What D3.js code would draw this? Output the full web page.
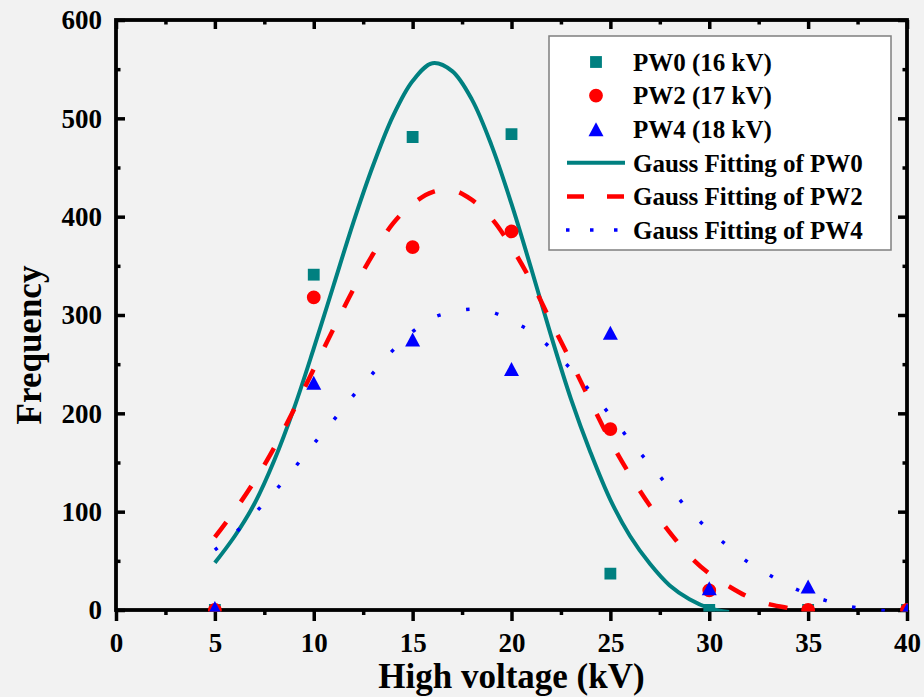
<!DOCTYPE html>
<html>
<head>
<meta charset="utf-8">
<script src="https://cdn.jsdelivr.net/npm/d3@7"></script>
<style>
html,body{margin:0;padding:0;background:#f2f2f2;}
svg{display:block;}
text{font-family:"Liberation Serif","Times New Roman",serif;font-weight:bold;fill:#000;}
</style>
</head>
<body>
<svg id="chart" width="924" height="697"></svg>
<script>
// ---- data ----
const voltages = [5, 10, 15, 20, 25, 30, 35, 40];
const pw0 = [0, 341, 481, 484, 37, 0, 0, 0];
const pw2 = [0, 318, 369, 385, 184, 20, 0, 0];
const pw4 = [2, 231, 275, 245, 282, 22, 24, 0];

const fitX0 = [5,6,7,8,9,10,11,12,13,14,15,16,17,18,19,20,21,22,23,24,25,26,27,28,29,30,31];
const fitPW0 = [48,75,108,152,205,266,330,394,452,502,538,556,548,519,472,413,347,279,215,160,112,75,47,25,11,2,-2];
const fitX2 = [5,6,7,8,9,10,11,12,13,14,15,16,17,18,19,20,21,22,23,24,25,26,27,28,29,30,31,32,33,34,35];
const fitPW2 = [74,101,131,165,204,245,286,326,362,393,413,425,427,417,398,369,334,293,253,212,172,137,106,79,55,37,24,13,6,2,-3];
const fitX4 = [5,6,7,8,9,10,11,12,13,14,15,16,17,18,19,20,21,22,23,24,25,26,27,28,29,30,31,32,33,34,35,36,37,38,39,40];
const fitPW4 = [61,78,98,120,144,169,193,218,241,264,283,297,303,306,303,294,283,266,245,222,198,172,148,124,101,81,64,48,36,25,16,9,4,1,-1,-3];

const xTicks = [0,5,10,15,20,25,30,35,40];
const yTicks = [0,100,200,300,400,500,600];
const legendLabels = ["PW0 (16 kV)","PW2 (17 kV)","PW4 (18 kV)","Gauss Fitting of PW0","Gauss Fitting of PW2","Gauss Fitting of PW4"];
const xTitle = "High voltage (kV)";
const yTitle = "Frequency";

const TEAL = "#008080", RED = "#ff0000", BLUE = "#0000ff";

// ---- layout ----
const svg = d3.select("#chart");
const L = 116, R = 907, T = 20, B = 610;
const x = d3.scaleLinear().domain([0,40]).range([L,R]);
const y = d3.scaleLinear().domain([0,600]).range([B,T]);

svg.append("rect").attr("width",924).attr("height",697).attr("fill","#f2f2f2");

svg.append("defs").append("clipPath").attr("id","clip")
  .append("rect").attr("x",L).attr("y",T).attr("width",R-L+1).attr("height",B-T+1.5);

// ---- axes ----
const minorX = d3.range(2.5,40,5);
const minorY = d3.range(50,600,50).filter(v=>v%100!==0);

const gB = svg.append("g").attr("transform",`translate(0,${B})`)
  .call(d3.axisBottom(x).tickValues(xTicks).tickSize(11).tickPadding(12).tickFormat(d3.format("d")));
const gBm = svg.append("g").attr("transform",`translate(0,${B})`)
  .call(d3.axisBottom(x).tickValues(minorX).tickSize(5).tickFormat(""));
const gT = svg.append("g").attr("transform",`translate(0,${T})`)
  .call(d3.axisBottom(x).tickValues(xTicks).tickSize(9).tickFormat(""));
const gTm = svg.append("g").attr("transform",`translate(0,${T})`)
  .call(d3.axisBottom(x).tickValues(minorX).tickSize(4.5).tickFormat(""));
const gL = svg.append("g").attr("transform",`translate(${L},0)`)
  .call(d3.axisRight(y).tickValues(yTicks).tickSize(9).tickFormat(""));
const gLm = svg.append("g").attr("transform",`translate(${L},0)`)
  .call(d3.axisRight(y).tickValues(minorY).tickSize(4.5).tickFormat(""));
const gLl = svg.append("g").attr("transform",`translate(${L},0)`)
  .call(d3.axisLeft(y).tickValues(yTicks).tickSize(0).tickPadding(14).tickFormat(d3.format("d")));
const gR = svg.append("g").attr("transform",`translate(${R},0)`)
  .call(d3.axisLeft(y).tickValues(yTicks).tickSize(9).tickFormat(""));
const gRm = svg.append("g").attr("transform",`translate(${R},0)`)
  .call(d3.axisLeft(y).tickValues(minorY).tickSize(4.5).tickFormat(""));

[gB,gBm,gT,gTm,gL,gLm,gLl,gR,gRm].forEach(g=>{
  g.select(".domain").remove();
  g.selectAll("line").attr("stroke","#000").attr("stroke-width",3.5);
  g.selectAll("text").attr("font-family","Liberation Serif, Times New Roman, serif")
    .attr("font-weight","bold").attr("font-size",27).attr("fill","#000");
});
gB.selectAll("text").attr("dy","0.71em").attr("y",23);
gLl.selectAll("text").attr("dy","0.33em").attr("x",-14);

svg.append("rect").attr("x",L).attr("y",T).attr("width",R-L).attr("height",B-T)
  .attr("fill","none").attr("stroke","#000").attr("stroke-width",3.8);

// ---- curves ----
const plot = svg.append("g").attr("clip-path","url(#clip)");
const line = d3.line().x(d=>x(d[0])).y(d=>y(d[1])).curve(d3.curveCatmullRom);

plot.append("path").datum(d3.zip(fitX0,fitPW0)).attr("d",line)
  .attr("fill","none").attr("stroke",TEAL).attr("stroke-width",4);
plot.append("path").datum(d3.zip(fitX2,fitPW2)).attr("d",line)
  .attr("fill","none").attr("stroke",RED).attr("stroke-width",4.5).attr("stroke-dasharray","19,25");
plot.append("path").datum(d3.zip(fitX4,fitPW4)).attr("d",line)
  .attr("fill","none").attr("stroke",BLUE).attr("stroke-width",3.5).attr("stroke-dasharray","3.5,26");

// ---- markers ----
const sq = d3.symbol().type(d3.symbolSquare).size(140);
const ci = d3.symbol().type(d3.symbolCircle).size(150);
function tri(cx,cy){
  const w=15,h=14;
  return `M${cx},${cy-h/2}L${cx+w/2},${cy+h/2}L${cx-w/2},${cy+h/2}Z`;
}
plot.selectAll(".p0").data(d3.zip(voltages,pw0)).join("path")
  .attr("class","p0").attr("d",sq).attr("transform",d=>`translate(${x(d[0])},${y(d[1])})`).attr("fill",TEAL);
plot.selectAll(".p2").data(d3.zip(voltages,pw2)).join("path")
  .attr("class","p2").attr("d",ci).attr("transform",d=>`translate(${x(d[0])},${y(d[1])})`).attr("fill",RED);
plot.selectAll(".p4").data(d3.zip(voltages,pw4)).join("path")
  .attr("class","p4").attr("d",d=>tri(x(d[0]),y(d[1]))).attr("fill",BLUE);

// ---- titles ----
svg.append("text").attr("x",(L+R)/2).attr("y",688).attr("text-anchor","middle")
  .attr("font-size",35).text(xTitle);
svg.append("text").attr("transform","translate(41,345) rotate(-90)").attr("text-anchor","middle")
  .attr("font-size",35).text(yTitle);

// ---- legend ----
const lg = svg.append("g");
lg.append("rect").attr("x",549).attr("y",36).attr("width",342).attr("height",214)
  .attr("fill","#ffffff").attr("stroke","#7f7f7f").attr("stroke-width",1.5);
const rowY = i => 62 + i*33.6;
lg.append("path").attr("d",sq).attr("transform",`translate(596,${rowY(0)})`).attr("fill",TEAL);
lg.append("path").attr("d",ci).attr("transform",`translate(596,${rowY(1)})`).attr("fill",RED);
lg.append("path").attr("d",tri(596,rowY(2))).attr("fill",BLUE);
lg.append("line").attr("x1",567).attr("x2",625).attr("y1",rowY(3)).attr("y2",rowY(3))
  .attr("stroke",TEAL).attr("stroke-width",4);
lg.append("line").attr("x1",567).attr("x2",625).attr("y1",rowY(4)).attr("y2",rowY(4))
  .attr("stroke",RED).attr("stroke-width",4.5).attr("stroke-dasharray","17,23");
lg.append("line").attr("x1",566).attr("x2",626).attr("y1",rowY(5)).attr("y2",rowY(5))
  .attr("stroke",BLUE).attr("stroke-width",3.5).attr("stroke-dasharray","3.5,20.5");
legendLabels.forEach((t,i)=>{
  lg.append("text").attr("x",633).attr("y",rowY(i)).attr("dy","0.35em")
    .attr("font-size",25).text(t);
});
</script>
</body>
</html>
